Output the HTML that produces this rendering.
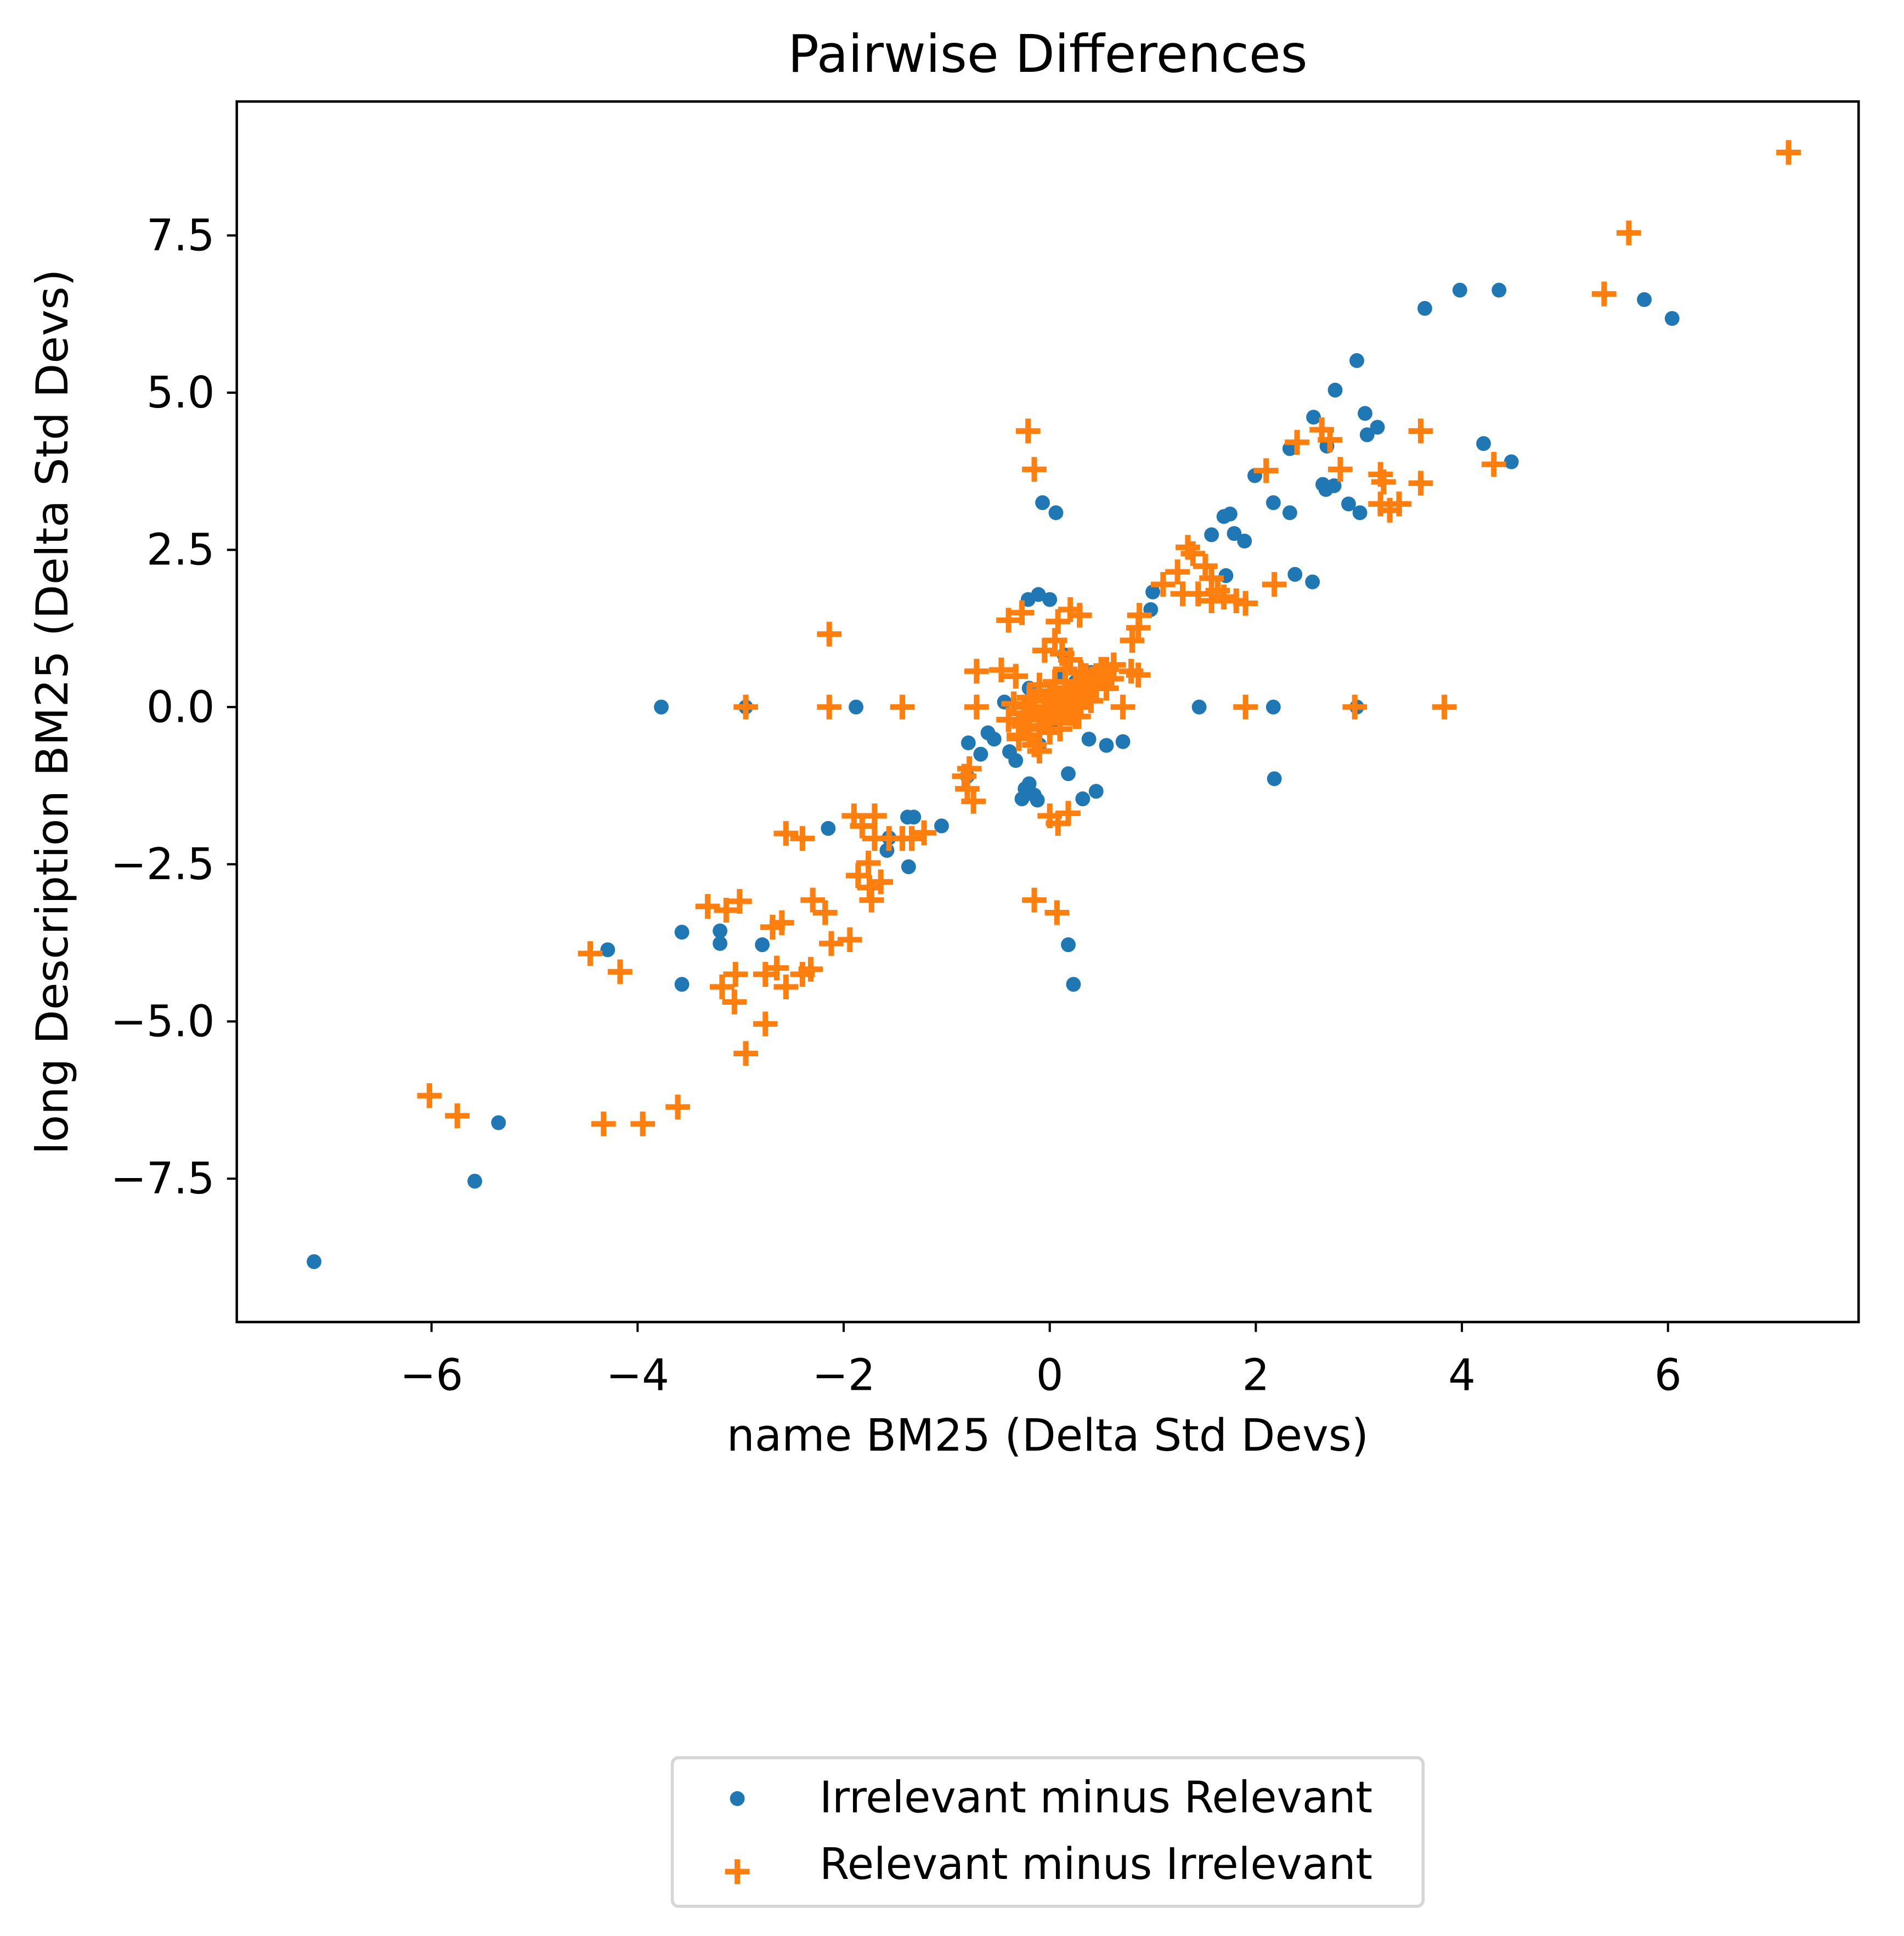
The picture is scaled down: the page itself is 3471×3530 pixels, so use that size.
<!DOCTYPE html>
<html><head><meta charset="utf-8"><style>
html,body{margin:0;padding:0;background:#fff;}
svg{display:block;}
text{font-family:"DejaVu Sans","Liberation Sans",sans-serif;fill:#000;}
</style></head><body>
<svg id="chart" width="3471" height="3530" viewBox="0 0 1552 1564" preserveAspectRatio="none" xmlns="http://www.w3.org/2000/svg">
<rect x="0" y="0" width="1552" height="1564" fill="#fff"/>
<text x="854" y="58" font-size="42" text-anchor="middle">Pairwise Differences</text>
<g id="marks"></g>
<rect x="193" y="82" width="1322" height="986" fill="none" stroke="#000" stroke-width="2"/>
<g id="axes"></g>
<text x="854" y="1172" font-size="36" text-anchor="middle">name BM25 (Delta Std Devs)</text>
<text transform="translate(55,575) rotate(-90)" font-size="36" text-anchor="middle">long Description BM25 (Delta Std Devs)</text>
<g>
<rect x="548" y="1420" width="612" height="120" rx="5" fill="#fff" stroke="#d6d6d6" stroke-width="2.5"/>
<circle cx="601" cy="1453" r="6" fill="#1f77b4"/>
<path d="M591 1512 H611 M601 1502 V1522" stroke="#ff7f0e" stroke-width="4.5"/>
<text x="668" y="1464" font-size="35">Irrelevant minus Relevant</text>
<text x="668" y="1518" font-size="35">Relevant minus Irrelevant</text>
</g>
</svg>
<script>
const xTicks = [-6,-4,-2,0,2,4,6];
const xTickLabels = ["\u22126","\u22124","\u22122","0","2","4","6"];
const yTicks = [-7.5,-5,-2.5,0,2.5,5,7.5];
const yTickLabels = ["\u22127.5","\u22125.0","\u22122.5","0.0","2.5","5.0","7.5"];

const blueX = [-7.14,-5.58,-5.35,-4.29,-3.77,-3.57,-3.57,-3.2,-3.2,-2.95,-2.79,-2.15,-1.88,-1.58,-1.56,-1.38,-1.32,-1.37,-1.05,-0.8,-0.79,-0.67,-0.6,-0.54,-0.44,-0.39,-0.33,-0.27,-0.24,-0.2,-0.15,-0.12,-0.21,-0.11,0.0,-0.07,0.06,0.14,0.18,0.18,0.23,0.32,0.38,0.45,0.55,0.71,1.0,0.98,1.45,1.57,1.69,1.75,1.79,1.89,1.71,1.99,2.17,2.33,2.17,2.18,2.38,2.55,2.33,2.56,2.69,2.77,2.65,2.68,2.76,2.9,2.98,3.01,3.06,3.08,3.18,2.98,3.64,3.98,4.36,4.21,4.48,5.77,6.04,-0.2,0.1,0.25,0.35,0.05,-0.1,0.4];
const blueY = [-8.82,-7.54,-6.61,-3.86,0,-3.58,-4.41,-3.56,-3.76,0,-3.78,-1.93,0,-2.28,-2.08,-1.75,-1.75,-2.54,-1.89,-1.1,-0.57,-0.75,-0.41,-0.51,0.08,-0.71,-0.85,-1.46,-1.3,-1.22,-1.4,-1.48,1.71,1.79,1.71,3.25,3.09,0.83,-1.06,-3.78,-4.41,-1.46,-0.51,-1.34,-0.61,-0.55,1.83,1.55,0,2.74,3.03,3.07,2.76,2.64,2.09,3.68,3.25,3.09,0,-1.14,2.11,1.99,4.11,4.61,4.15,5.04,3.54,3.46,3.52,3.23,5.51,3.09,4.67,4.33,4.45,0,6.34,6.63,6.63,4.19,3.9,6.48,6.18,0.3,0.5,0.4,0.2,-0.3,-0.6,0.55];

const orangeX = [-6.02,-5.75,-4.46,-4.17,-4.33,-3.95,-3.61,-3.32,-3.14,-3.01,-2.95,-3.18,-3.05,-3.06,-2.95,-2.76,-2.76,-2.65,-2.69,-2.6,-2.56,-2.4,-2.56,-2.4,-2.32,-2.3,-2.18,-2.14,-2.14,-2.12,-1.94,-1.9,-1.7,-1.82,-1.86,-1.75,-1.73,-1.64,-1.76,-1.7,-1.56,-1.43,-1.34,-1.22,-1.43,-0.83,-0.8,-0.74,-0.78,-0.71,-0.71,-0.47,-0.33,-0.4,-0.27,-0.21,-0.15,-0.15,0.07,0.0,0.18,0.08,0.05,0.08,0.2,0.29,0.71,0.62,0.79,0.86,0.8,0.87,0.86,1.1,1.24,1.34,1.39,1.51,1.57,1.63,1.29,1.44,1.57,1.69,1.81,1.9,1.9,2.18,2.1,2.4,2.64,2.72,2.82,2.96,3.21,3.24,3.3,3.21,3.39,3.6,3.6,3.83,4.31,5.38,5.62,7.17,
 -0.4,-0.3,-0.25,-0.2,-0.15,-0.1,-0.05,0.0,0.05,0.1,0.15,0.2,0.25,0.3,0.35,0.4,0.45,0.5,0.55,-0.35,-0.2,-0.1,0.0,0.1,0.2,0.3,0.4,-0.3,-0.15,0.0,0.15,0.3,-0.1,0.05,0.2,0.35,-0.25,0.1,0.25,0.45,0.6,-0.05,0.12,0.28,
 -0.3,-0.2,-0.1,0.0,0.1,0.2,0.3,0.4,-0.25,-0.15,-0.05,0.05,0.15,0.25,0.35,0.45,-0.2,-0.1,0.0,0.1,0.2,0.3,-0.35,0.15,0.5,0.55];
const orangeY = [-6.18,-6.5,-3.92,-4.21,-6.63,-6.63,-6.36,-3.17,-3.23,-3.09,0,-4.45,-4.25,-4.69,-5.51,-5.04,-4.25,-4.15,-3.5,-3.43,-4.45,-4.25,-2.01,-2.09,-4.17,-3.07,-3.27,1.16,0,-3.76,-3.7,-1.73,-1.73,-1.89,-2.68,-2.87,-3.07,-2.78,-2.48,-2.09,-2.09,-2.09,-2.09,-2.0,0,-1.1,-1.3,-1.5,-0.98,0.57,0,0.59,0.49,1.38,1.5,4.39,3.78,-3.07,-3.27,-1.73,-1.69,-1.85,1.06,1.36,1.55,1.46,0,0.67,0.57,0.51,1.06,1.46,1.26,1.95,2.15,2.54,2.44,2.24,2.05,1.85,1.8,1.8,1.69,1.75,1.69,1.65,0,1.95,3.76,4.21,4.41,4.25,3.78,0,3.7,3.58,3.13,3.23,3.23,4.39,3.56,0,3.86,6.57,7.54,8.82,
 -0.2,-0.45,-0.1,-0.3,0.0,-0.2,0.1,-0.05,0.2,0.05,0.3,0.15,0.35,0.25,0.45,0.35,0.5,0.45,0.6,0.05,0.15,0.35,0.2,-0.25,-0.1,0.0,0.1,-0.5,-0.6,-0.4,0.6,0.55,-0.7,0.4,0.75,0.2,-0.3,-0.35,-0.15,0.3,0.45,0.9,0.85,-0.15,
 -0.25,-0.15,-0.3,-0.15,0.0,0.05,0.15,0.3,0.0,0.1,-0.2,0.25,0.4,0.2,0.5,0.35,-0.45,-0.35,-0.2,-0.1,0.1,0.1,0.05,-0.05,0.6,0.3];

const X0=193, X1=1515, Y0=82, Y1=1068;
const xMin=-7.89, xMax=7.85, yMin=-9.78, yMax=9.63;
function sx(v){return X0+(v-xMin)/(xMax-xMin)*(X1-X0);}
function sy(v){return Y1-(v-yMin)/(yMax-yMin)*(Y1-Y0);}
const NS="http://www.w3.org/2000/svg";
const marks=document.getElementById('marks');
const axes=document.getElementById('axes');

for(let i=0;i<blueX.length;i++){
  const c=document.createElementNS(NS,'circle');
  c.setAttribute('cx',sx(blueX[i]));c.setAttribute('cy',sy(blueY[i]));
  c.setAttribute('r',6);c.setAttribute('fill','#1f77b4');
  
  
  marks.appendChild(c);
}
for(let i=0;i<orangeX.length;i++){
  const px=sx(orangeX[i]), py=sy(orangeY[i]);
  const p=document.createElementNS(NS,'path');
  p.setAttribute('d',`M${px-10} ${py} H${px+10} M${px} ${py-10} V${py+10}`);
  p.setAttribute('stroke','#ff7f0e');p.setAttribute('stroke-width',4.5);
  
  
  marks.appendChild(p);
}
xTicks.forEach((t,i)=>{
  const x=sx(t);
  const l=document.createElementNS(NS,'line');
  l.setAttribute('x1',x);l.setAttribute('x2',x);l.setAttribute('y1',Y1);l.setAttribute('y2',Y1+8);
  l.setAttribute('stroke','#000');l.setAttribute('stroke-width',1.8);
  
  
  axes.appendChild(l);
  const tx=document.createElementNS(NS,'text');
  tx.setAttribute('x',x);tx.setAttribute('y',1123);tx.setAttribute('font-size',35);tx.setAttribute('text-anchor','middle');
  tx.textContent=xTickLabels[i];
  
  
  axes.appendChild(tx);
});
yTicks.forEach((t,i)=>{
  const y=sy(t);
  const l=document.createElementNS(NS,'line');
  l.setAttribute('x1',X0-8);l.setAttribute('x2',X0);l.setAttribute('y1',y);l.setAttribute('y2',y);
  l.setAttribute('stroke','#000');l.setAttribute('stroke-width',1.8);
  
  
  axes.appendChild(l);
  const tx=document.createElementNS(NS,'text');
  tx.setAttribute('x',175);tx.setAttribute('y',y+12);tx.setAttribute('font-size',35);tx.setAttribute('text-anchor','end');
  tx.textContent=yTickLabels[i];
  
  
  axes.appendChild(tx);
});
</script>
</body></html>
